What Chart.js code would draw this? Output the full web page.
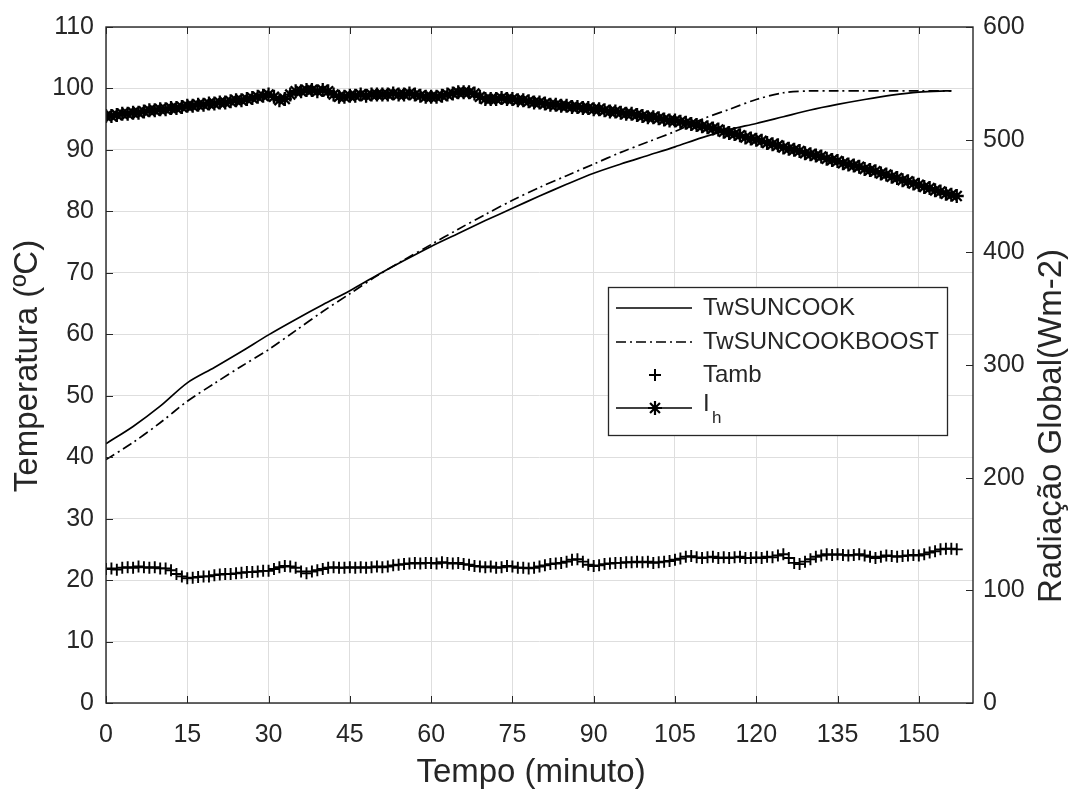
<!DOCTYPE html>
<html>
<head>
<meta charset="utf-8">
<script src="https://cdn.jsdelivr.net/npm/chart.js@4.4.1/dist/chart.umd.min.js"></script>
<style>
  html, body { margin: 0; padding: 0; background: #fff; }
  #wrap { width: 1081px; height: 794px; }
</style>
</head>
<body>
<div id="wrap"><canvas id="grafico"></canvas></div>
<script>
// Temperatura da água (ºC), lida a cada 5 min
const tempoAgua = [0, 5, 10, 15, 20, 25, 30, 35, 40, 45, 50, 55, 60, 65, 70, 75, 80, 85, 90, 95,
  100, 105, 110, 115, 120, 125, 130, 135, 140, 145, 150, 155, 156];
const twSuncook = [42.2, 45.0, 48.3, 52.1, 54.6, 57.2, 59.9, 62.4, 64.8, 67.1, 69.6, 72.0, 74.3, 76.4,
  78.5, 80.5, 82.5, 84.4, 86.2, 87.7, 89.1, 90.5, 92.0, 93.3, 94.3, 95.4, 96.5, 97.4, 98.2, 98.9,
  99.4, 99.6, 99.6];
const twSuncookBoost = [39.6, 42.4, 45.6, 49.1, 52.0, 54.8, 57.5, 60.6, 63.7, 66.6, 69.5, 72.1, 74.6,
  77.1, 79.5, 81.8, 83.9, 85.8, 87.7, 89.6, 91.3, 93.0, 95.0, 96.6, 98.2, 99.3, 99.6, 99.6, 99.6,
  99.6, 99.6, 99.6, 99.6];

// Temperatura ambiente (ºC), uma leitura por minuto a partir de 0
const tamb = [
  21.8, 21.9, 21.7, 22.0, 22.1, 22.0, 22.2, 22.1, 22.0, 22.1,
  21.9, 21.9, 21.6, 21.0, 20.6, 20.3, 20.4, 20.5, 20.6, 20.6,
  20.8, 20.9, 21.0, 21.0, 21.1, 21.2, 21.3, 21.3, 21.4, 21.5,
  21.5, 21.8, 22.1, 22.3, 22.2, 22.0, 21.4, 21.1, 21.4, 21.6,
  21.8, 22.0, 22.1, 22.0, 22.0, 22.1, 22.0, 22.1, 22.0, 22.1,
  22.2, 22.1, 22.2, 22.4, 22.5, 22.6, 22.7, 22.8, 22.7, 22.8,
  22.8, 22.7, 22.9, 22.8, 22.7, 22.8, 22.6, 22.5, 22.3, 22.2,
  22.1, 22.2, 22.0, 22.1, 22.3, 22.2, 22.0, 22.0, 21.9, 22.0,
  22.2, 22.4, 22.6, 22.7, 22.8, 23.0, 23.3, 23.4, 23.0, 22.5,
  22.3, 22.4, 22.6, 22.7, 22.8, 22.8, 22.9, 22.9, 23.0, 22.9,
  23.0, 22.8, 22.9, 23.0, 23.1, 23.3, 23.5, 23.8, 23.9, 23.7,
  23.6, 23.7, 23.8, 23.6, 23.7, 23.6, 23.7, 23.8, 23.6, 23.6,
  23.7, 23.6, 23.8, 23.7, 24.0, 24.2, 23.6, 22.8, 22.6, 23.0,
  23.4, 23.8, 24.0, 24.2, 24.1, 24.2, 24.1, 24.0, 24.1, 24.2,
  24.0, 23.8, 23.6, 23.8, 24.0, 23.9, 23.8, 23.9, 24.0, 24.1,
  24.0, 24.2, 24.5, 24.7, 25.0, 25.1, 25.1, 25.0
];

// Radiação global (W/m2), uma leitura por minuto a partir de 0
const radiacao = [
  521, 521, 522, 523, 523, 524, 524, 525, 526, 526,
  527, 527, 528, 528, 529, 530, 530, 531, 531, 532,
  532, 533, 533, 534, 535, 535, 536, 537, 538, 539,
  540, 538, 535, 536, 540, 543, 543, 544, 544, 543,
  544, 543, 540, 538, 538, 539, 539, 540, 539, 540,
  540, 540, 540, 541, 540, 540, 541, 540, 539, 538,
  538, 538, 539, 540, 541, 542, 542, 542, 541, 538,
  536, 536, 536, 537, 536, 536, 535, 535, 534, 533,
  533, 532, 531, 531, 530, 530, 529, 529, 528, 528,
  527, 527, 526, 525, 525, 524, 523, 523, 522, 521,
  520, 520, 519, 518, 517, 517, 516, 515, 514, 513,
  512, 511, 510, 509, 507, 506, 505, 504, 502, 501,
  500, 499, 497, 496, 495, 493, 492, 491, 490, 488,
  487, 486, 485, 483, 482, 481, 479, 478, 477, 476,
  474, 473, 472, 470, 469, 467, 466, 464, 463, 461,
  460, 458, 457, 455, 454, 452, 451, 450
];

const ticksTempo = [0, 15, 30, 45, 60, 75, 90, 105, 120, 135, 150];

const FONTE = 'Liberation Sans, Arial, Helvetica, sans-serif';
const COR_TEXTO = '#262626';
const COR_GRADE = '#dedede';
const TRACO_PONTO = [10, 4, 2, 4];

Chart.defaults.font.family = FONTE;
Chart.defaults.color = COR_TEXTO;

const pares = (xs, ys) => ys.map((v, i) => ({ x: xs[i], y: v }));
const porMinuto = ys => ys.map((v, i) => ({ x: i, y: v }));

function linha(ctx, x1, y1, x2, y2) {
  ctx.beginPath();
  ctx.moveTo(x1, y1);
  ctx.lineTo(x2, y2);
  ctx.stroke();
}

// moldura, ticks para dentro, títulos e legenda no estilo MATLAB
const molduraPlugin = {
  id: 'moldura',
  afterDraw(chart) {
    const { ctx, chartArea: a, scales } = chart;
    ctx.save();
    ctx.strokeStyle = COR_TEXTO;
    ctx.lineWidth = 1;
    const tl = 7;
    scales.x.ticks.forEach(t => {
      const px = Math.round(scales.x.getPixelForValue(t.value)) + 0.5;
      linha(ctx, px, a.bottom, px, a.bottom - tl);
      linha(ctx, px, a.top, px, a.top + tl);
    });
    scales.y.ticks.forEach(t => {
      const py = Math.round(scales.y.getPixelForValue(t.value)) + 0.5;
      linha(ctx, a.left, py, a.left + tl, py);
    });
    scales.y1.ticks.forEach(t => {
      const py = Math.round(scales.y1.getPixelForValue(t.value)) + 0.5;
      linha(ctx, a.right, py, a.right - tl, py);
    });
    ctx.lineWidth = 1.4;
    ctx.strokeRect(a.left, a.top, a.right - a.left, a.bottom - a.top);

    // títulos dos eixos
    ctx.fillStyle = COR_TEXTO;
    ctx.font = '33px ' + FONTE;
    ctx.textAlign = 'center';
    ctx.textBaseline = 'middle';
    ctx.fillText('Tempo (minuto)', 531, 773);
    ctx.save();
    ctx.translate(28, 366);
    ctx.rotate(-Math.PI / 2);
    ctx.fillText('Temperatura (ºC)', 0, 0);
    ctx.restore();
    ctx.save();
    ctx.translate(1052, 426);
    ctx.rotate(-Math.PI / 2);
    ctx.fillText('Radiação Global(Wm-2)', 0, 0);
    ctx.restore();

    // legenda
    const bx = 608, by = 287, bw = 339, bh = 148;
    ctx.fillStyle = '#fff';
    ctx.fillRect(bx, by, bw, bh);
    ctx.strokeStyle = COR_TEXTO;
    ctx.lineWidth = 1.3;
    ctx.strokeRect(bx + 0.5, by + 0.5, bw, bh);
    const linhas = [308, 342, 375, 408];
    const x1 = 616, x2 = 692, xm = 655, xt = 703;
    ctx.lineWidth = 1.6;
    ctx.strokeStyle = '#000';
    linha(ctx, x1, linhas[0], x2, linhas[0]);
    ctx.setLineDash(TRACO_PONTO);
    linha(ctx, x1, linhas[1], x2, linhas[1]);
    ctx.setLineDash([]);
    ctx.lineWidth = 2;
    Chart.helpers.drawPoint(ctx, { pointStyle: 'cross', radius: 6, borderWidth: 2 }, xm, linhas[2]);
    ctx.lineWidth = 1.6;
    linha(ctx, x1, linhas[3], x2, linhas[3]);
    ctx.lineWidth = 2.2;
    Chart.helpers.drawPoint(ctx, { pointStyle: 'star', radius: 7, borderWidth: 2.2 }, xm, linhas[3]);

    ctx.fillStyle = COR_TEXTO;
    ctx.font = '24px ' + FONTE;
    ctx.textAlign = 'left';
    ctx.fillText('TwSUNCOOK', xt, linhas[0]);
    ctx.fillText('TwSUNCOOKBOOST', xt, linhas[1]);
    ctx.fillText('Tamb', xt, linhas[2]);
    ctx.fillText('I', xt, linhas[3] - 4);
    ctx.font = '17px ' + FONTE;
    ctx.fillText('h', xt + 9, linhas[3] + 10);
    ctx.restore();
  }
};

new Chart(document.getElementById('grafico'), {
  type: 'line',
  data: {
    datasets: [
      {
        label: 'TwSUNCOOK',
        data: pares(tempoAgua, twSuncook),
        yAxisID: 'y',
        borderColor: '#000',
        borderWidth: 1.7,
        pointRadius: 0,
        tension: 0.3
      },
      {
        label: 'TwSUNCOOKBOOST',
        data: pares(tempoAgua, twSuncookBoost),
        yAxisID: 'y',
        borderColor: '#000',
        borderWidth: 1.7,
        borderDash: TRACO_PONTO,
        pointRadius: 0,
        tension: 0.3
      },
      {
        label: 'Tamb',
        data: porMinuto(tamb),
        yAxisID: 'y',
        showLine: false,
        pointStyle: 'cross',
        pointRadius: 6,
        pointBorderWidth: 1.9,
        pointBorderColor: '#000',
        borderColor: '#000'
      },
      {
        label: 'Ih',
        data: porMinuto(radiacao),
        yAxisID: 'y1',
        borderColor: '#000',
        borderWidth: 1.6,
        pointStyle: 'star',
        pointRadius: 7,
        pointBorderWidth: 2.3,
        pointBorderColor: '#000'
      }
    ]
  },
  options: {
    responsive: true,
    maintainAspectRatio: false,
    animation: false,
    layout: { padding: { top: 21, left: 0, right: 0, bottom: 0 } },
    plugins: {
      legend: { display: false },
      tooltip: { enabled: false }
    },
    scales: {
      x: {
        type: 'linear',
        min: 0,
        max: 160,
        afterBuildTicks: s => { s.ticks = ticksTempo.map(v => ({ value: v })); },
        afterFit: s => { s.height = 91; },
        grid: { color: COR_GRADE, drawTicks: false },
        border: { display: false },
        ticks: { font: { size: 25 }, padding: 17, maxRotation: 0, color: COR_TEXTO }
      },
      y: {
        position: 'left',
        min: 0,
        max: 110,
        ticks: { stepSize: 10, font: { size: 25 }, padding: 12, color: COR_TEXTO },
        afterFit: s => { s.width = 106; },
        grid: { color: COR_GRADE, drawTicks: false },
        border: { display: false }
      },
      y1: {
        position: 'right',
        min: 0,
        max: 600,
        ticks: { stepSize: 100, font: { size: 25 }, padding: 10, color: COR_TEXTO },
        afterFit: s => { s.width = 108; },
        grid: { drawOnChartArea: false, drawTicks: false },
        border: { display: false }
      }
    }
  },
  plugins: [molduraPlugin]
});
</script>
</body>
</html>
